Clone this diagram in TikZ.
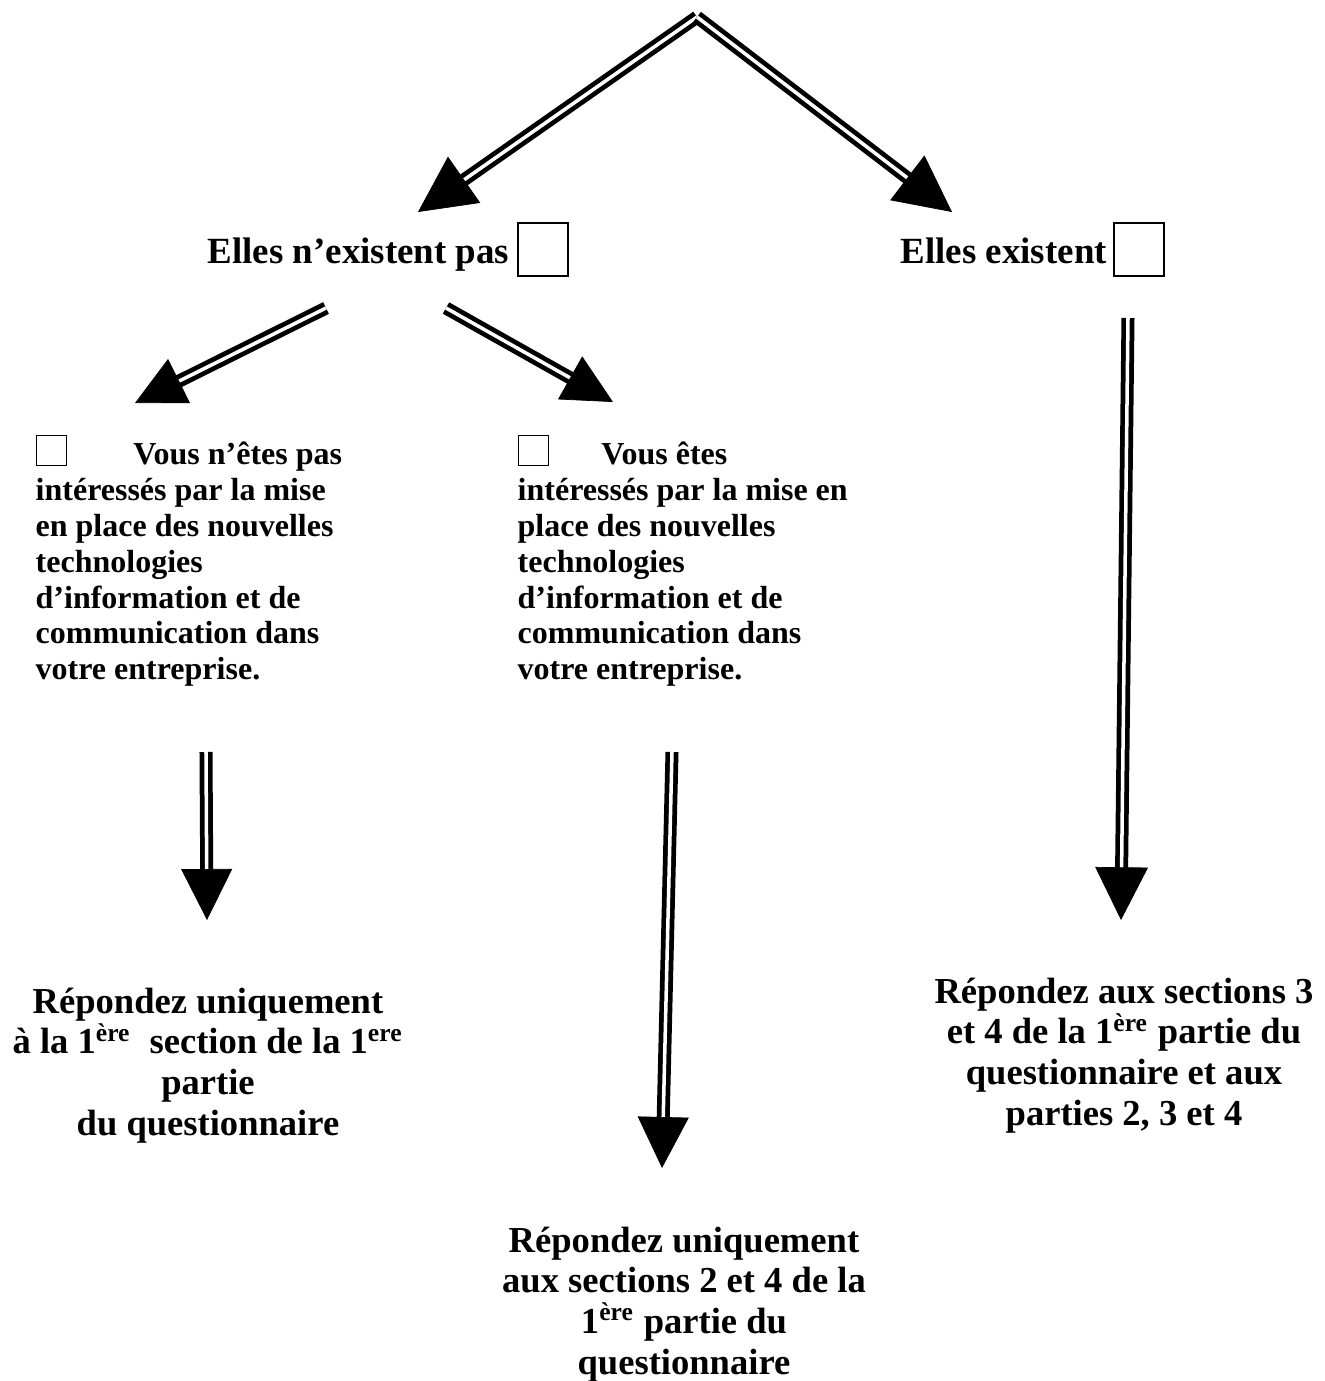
\documentclass[tikz,border=0pt]{standalone}
\usepackage{fontspec}
\setmainfont{Liberation Serif}
\usetikzlibrary{arrows.meta}

% case a cocher dans le texte
\newcommand{\casep}{{\fboxsep=0pt\fboxrule=0.5pt\framebox{\rule{0pt}{8pt}\hspace{8pt}}}}
% fleche double : taille de la pointe, depart, arrivee
\newcommand{\fleche}[3]{%
  \draw[dbl, shorten >=#1-3pt] (#2) -- (#3);
  \draw[pointe=#1] (#2) -- (#3);
}

\tikzset{
  titre/.style={font=\fontsize{10.5}{12}\selectfont\bfseries, inner sep=0pt},
  texte/.style={font=\fontsize{9.1}{10.2}\selectfont\bfseries, align=left, inner sep=0pt},
  reponse/.style={font=\fontsize{10.4}{11.6}\selectfont\bfseries, align=center, inner sep=0pt},
  caseG/.style={draw, line width=0.5pt, minimum width=14.2pt, minimum height=15pt, inner sep=0pt},
  dbl/.style={double, double distance=1pt, line width=1.35pt},
  pointe/.style={draw=white, line width=0.2pt, -{Triangle[length=#1, width=#1, color=black]}},
}

\begin{document}
\begin{tikzpicture}[x=0.01cm, y=-0.01cm]
    \useasboundingbox (0,0) rectangle (1325,1381);

    % premier niveau
    \node[titre, anchor=base west] (nexist) at (207,263) {Elles n’existent pas};
    \node[caseG, anchor=north west] (cnexist) at (517,222) {};
    \node[titre, anchor=base west] (exist) at (900,263) {Elles existent};
    \node[caseG, anchor=north west] (cexist) at (1113,222) {};

    % deuxieme niveau
    \node[texte, anchor=north west] (nonint) at (35,434) {\casep\hspace{18.8pt}Vous n’êtes pas\\
        intéressés par la mise\\ en place des nouvelles\\ technologies\\
        d’information et de\\ communication dans\\ votre entreprise.};
    \node[texte, anchor=north west] (inter) at (517,434) {\casep\hspace{14.8pt}Vous êtes\\
        intéressés par la mise en\\ place des nouvelles\\ technologies\\
        d’information et de\\ communication dans\\ votre entreprise.};

    % reponses
    \node[reponse, anchor=north] (repA) at (208,987) {Répondez uniquement\\
        à la 1\textsuperscript{ère}~ section de la 1\textsuperscript{ere}\\ partie\\ du questionnaire};
    \node[reponse, anchor=north] (repB) at (684,1226) {Répondez uniquement\\
        aux sections 2 et 4 de la\\ 1\textsuperscript{ère} partie du\\ questionnaire};
    \node[reponse, anchor=north] (repC) at (1124,977) {Répondez aux sections 3\\
        et 4 de la 1\textsuperscript{ère} partie du\\ questionnaire et aux\\ parties 2, 3 et 4};

    % points des fleches
    \coordinate (sommet) at (697,17);
    \coordinate (pA) at (418,212);
    \coordinate (pB) at (952,212);
    \coordinate (dC) at (326,308);
    \coordinate (pC) at (135,403);
    \coordinate (dD) at (446,308);
    \coordinate (pD) at (613,402);
    \coordinate (dE) at (1128,318);
    \coordinate (pE) at (1121,920);
    \coordinate (dF) at (206,752);
    \coordinate (pF) at (207,920);
    \coordinate (dG) at (672,752);
    \coordinate (pG) at (662,1168);

    % fleches
    \fleche{16pt}{sommet}{pA}
    \fleche{16pt}{sommet}{pB}
    \fleche{14pt}{dC}{pC}
    \fleche{14pt}{dD}{pD}
    \fleche{15pt}{dE}{pE}
    \fleche{14.5pt}{dF}{pF}
    \fleche{14.5pt}{dG}{pG}
\end{tikzpicture}
\end{document}
